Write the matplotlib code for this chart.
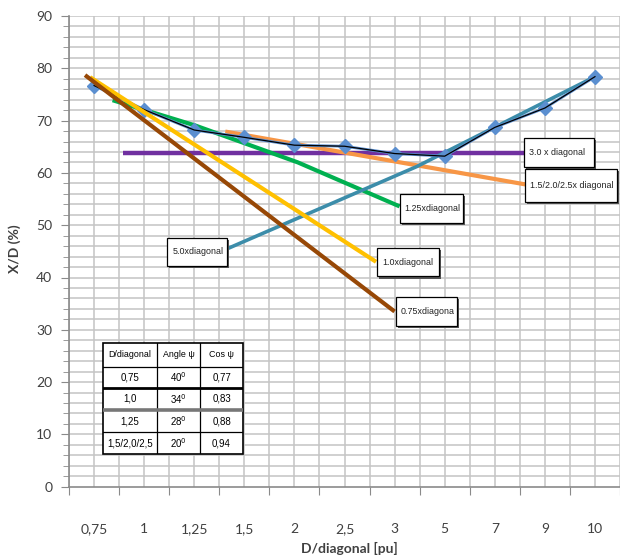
import matplotlib
matplotlib.use("Agg")
import matplotlib.pyplot as plt
from matplotlib.patches import Rectangle

# category axis
categories = ["0,75", "1", "1,25", "1,5", "2", "2,5", "3", "5", "7", "9", "10"]
measured = [76.7, 72.1, 68.2, 66.8, 65.3, 65.1, 63.7, 63.2, 68.7, 72.4, 78.4]

# approximation lines: positions are category indices (fractional)
brown_x, brown_y = [-0.18, 6.0], [78.7, 33.5]
yellow_x, yellow_y = [-0.08, 5.63], [78.3, 43.0]
green_x, green_y = [0.37, 2.01, 4.07, 6.10], [73.9, 69.1, 62.0, 53.6]
orange_x, orange_y = [2.62, 8.61], [67.9, 57.8]
purple_x, purple_y = [0.57, 8.59], [63.8, 63.8]
teal_x, teal_y = [2.66, 6.44, 10.0], [45.5, 61.2, 78.4]

# table
tab_header = ["D/diagonal", "Angle \u03c8", "Cos \u03c8"]
tab_ratio = ["0,75", "1,0", "1,25", "1,5/2,0/2,5"]
tab_angle = [40, 34, 28, 20]
tab_cos = ["0,77", "0,83", "0,88", "0,94"]

W, H = 620, 559
fig = plt.figure(figsize=(W / 100, H / 100), dpi=100)
plt.rcParams['font.family'] = ['Lato', 'DejaVu Sans']
narrow = ['Liberation Sans', 'DejaVu Sans']
small = 6.4

# axes in pixel terms: left 69, right 620 (chart is cut at the right), top 16, bottom 486.7
x0, x1, ytop, ybot = 69, 620, 16, 486.7
ax = fig.add_axes([x0 / W, 1 - ybot / H, (x1 - x0) / W, (ybot - ytop) / H])
step = 50.6
ax.set_xlim(-0.5, (x1 - x0) / step - 0.5)
ax.set_ylim(0, 90)

grid_c = '#c4c4c4'
for i in range(len(categories) + 1):
    ax.axvline(i - 0.5, color=grid_c, lw=1.1, zorder=0)
    if i < len(categories):
        ax.axvline(i, color=grid_c, lw=1.1, zorder=0)
for v in range(2, 91, 2):
    ax.axhline(v, color=grid_c, lw=1.1, zorder=0)

for s in ['top', 'right']:
    ax.spines[s].set_visible(False)
for s in ['left', 'bottom']:
    ax.spines[s].set_color('#8a8a8a')
    ax.spines[s].set_linewidth(1.2)

ax.set_yticks(range(0, 91, 10))
ax.set_yticks(range(0, 91, 2), minor=True)
ax.tick_params(axis='y', which='major', length=6, color='#8a8a8a', labelsize=10,
               labelcolor='#404040', pad=6)
ax.tick_params(axis='y', which='minor', length=4, color='#8a8a8a')

ax.set_xticks([i - 0.5 for i in range(len(categories) + 1)])
ax.set_xticklabels([])
ax.set_xticks(range(len(categories)), minor=True)
ax.set_xticklabels(categories, minor=True)
ax.tick_params(axis='x', which='major', length=6, color='#8a8a8a')
ax.tick_params(axis='x', which='minor', length=0, labelsize=10, labelcolor='#404040', pad=26)

fig.text(349 / W, 1 - 548 / H, "D/diagonal [pu]", ha='center', va='center',
         fontsize=10, fontweight='bold', color='#404040')
fig.text(15 / W, 1 - 249 / H, "X/D (%)", ha='center', va='center', rotation=90,
         fontsize=10, fontweight='bold', color='#404040')

# lines
ax.plot(purple_x, purple_y, color='#7030A0', lw=3.2, zorder=2, solid_capstyle='butt')
ax.plot(orange_x, orange_y, color='#F79646', lw=3, zorder=2, solid_capstyle='butt')
ax.plot(green_x, green_y, color='#00B050', lw=3, zorder=2, solid_capstyle='butt')
ax.plot(teal_x, teal_y, color='#3C8DAA', lw=2.6, zorder=2, solid_capstyle='butt')
ax.plot(range(len(categories)), measured, color='#5B8FD0', lw=2, marker='D',
        markersize=7, zorder=3)
ax.plot(range(len(categories)), measured, color='black', lw=0.9, zorder=4)
ax.plot(yellow_x, yellow_y, color='#FFC000', lw=3, zorder=5, solid_capstyle='butt')
ax.plot(brown_x, brown_y, color='#974806', lw=3, zorder=5, solid_capstyle='butt')

# callout boxes (index range, value range)
callouts = [
    ("3.0 x diagonal", 8.59, 9.99, 61.2, 66.6),
    ("1.5/2.0/2.5x diagonal", 8.61, 10.45, 54.5, 60.7),
    ("1.25xdiagonal", 6.10, 7.36, 50.5, 56.0),
    ("1.0xdiagonal", 5.65, 6.89, 40.2, 45.7),
    ("0.75xdiagona", 6.02, 7.25, 30.7, 36.2),
    ("5.0xdiagonal", 1.46, 2.66, 42.2, 47.6),
]
for label, a, b, c, d in callouts:
    ax.add_patch(Rectangle((a + 0.04, c - 0.4), b - a, d - c, facecolor='#555555',
                           edgecolor='none', zorder=6))
    ax.add_patch(Rectangle((a, c), b - a, d - c, facecolor='white',
                           edgecolor='black', lw=0.9, zorder=7))
    ax.text(a + 0.1, (c + d) / 2, label, ha='left', va='center', fontsize=small,
            family=narrow, color='#222222', zorder=8)

# data table drawn in its own axes
tx0, ty0, tx1, ty1 = 103, 343, 243, 454
tab = fig.add_axes([tx0 / W, 1 - ty1 / H, (tx1 - tx0) / W, (ty1 - ty0) / H])
tab.set_xlim(0, 1)
tab.set_ylim(0, 1)
tab.axis('off')
tab.add_patch(Rectangle((0, 0), 1, 1, facecolor='white', edgecolor='black', lw=1.2,
                        transform=tab.transAxes, clip_on=False))
cols = [0, 0.386, 0.693, 1]
rows = [1, 0.784, 0.595, 0.396, 0.198, 0]
for cx in cols[1:-1]:
    tab.plot([cx, cx], [0, 1], color='black', lw=0.9)
row_style = [('black', 0.9), ('black', 2.0), ('#777777', 2.6), ('black', 0.9)]
for ry, (col, lw) in zip(rows[1:-1], row_style):
    tab.plot([0, 1], [ry, ry], color=col, lw=lw)

cells = [tab_header] + [[r, "%d$^{0}$" % a, cs] for r, a, cs in zip(tab_ratio, tab_angle, tab_cos)]
for ri, row in enumerate(cells):
    yc = (rows[ri] + rows[ri + 1]) / 2
    for ci, txt in enumerate(row):
        xc = (cols[ci] + cols[ci + 1]) / 2
        tab.text(xc, yc, txt, ha='center', va='center',
                 fontsize=(small + 0.6) if ri else small,
                 family=narrow, color='black')

fig.savefig("out.png", dpi=100)
